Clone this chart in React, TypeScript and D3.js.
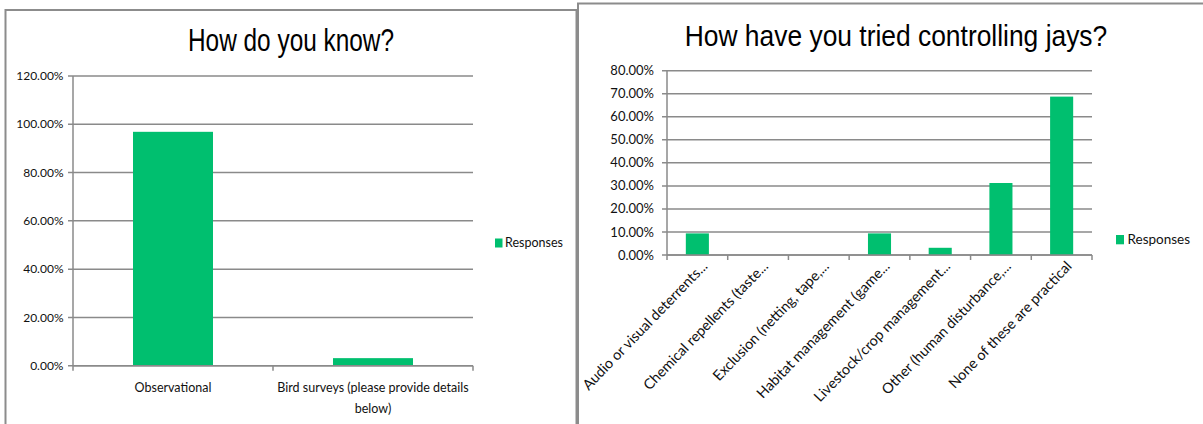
import React from "react";
import * as d3 from "d3";

const leftTitle = "How do you know?";
const leftCategories = ["Observational", "Bird surveys (please provide details below)"];
const leftCategoryLines = [["Observational"], ["Bird surveys (please provide details", "below)"]];
const leftValues = [96.88, 3.13];
const leftTicks = [0, 20, 40, 60, 80, 100, 120];

const rightTitle = "How have you tried controlling jays?";
const rightCategories = [
  "Audio or visual deterrents...",
  "Chemical repellents (taste...",
  "Exclusion (netting, tape,...",
  "Habitat management (game...",
  "Livestock/crop management...",
  "Other (human disturbance,...",
  "None of these are practical",
];
const rightValues = [9.38, 0, 0, 9.38, 3.13, 31.25, 68.75];
const rightTicks = [0, 10, 20, 30, 40, 50, 60, 70, 80];

const seriesName = "Responses";

const GREEN = "#00BF6F";
const GRID = "#8a8a8a";
const FRAME = "#8c8c8c";
const TEXT = "#111";
const FONT = "Lato, 'Open Sans', sans-serif";
const TITLE_FONT = "'Liberation Sans', Arial, sans-serif";

const fmt = (v: number) => v.toFixed(2) + "%";

function LeftChart() {
  const x = d3.scaleBand<string>().domain(leftCategories).range([73, 473]).paddingInner(0.6).paddingOuter(0.3);
  const y = d3.scaleLinear().domain([0, 120]).range([365.7, 76]);
  const step = x.step();
  const x0 = 73;
  return (
    <g>
      <rect x={5.5} y={10} width={571} height={430} fill="#fff" stroke={FRAME} strokeWidth={2} />
      <text
        transform="translate(291,51) scale(0.8,1)"
        textAnchor="middle"
        fontFamily={TITLE_FONT}
        fontSize={30.5}
        fill="#000"
      >
        {leftTitle}
      </text>
      {leftTicks.map((t) => (
        <g key={t}>
          <line x1={68} x2={473} y1={y(t)} y2={y(t)} stroke={GRID} strokeWidth={1.5} />
          <text x={63.5} y={y(t)} dy="0.35em" textAnchor="end" fontFamily={FONT} fontSize={12} fill={TEXT}>
            {fmt(t)}
          </text>
        </g>
      ))}
      <line x1={73} x2={73} y1={y(120)} y2={y(0)} stroke={GRID} strokeWidth={1.5} />
      {leftCategories.map((c, i) => (
        <rect key={c} x={x(c)} y={y(leftValues[i])} width={x.bandwidth()} height={y(0) - y(leftValues[i])} fill={GREEN} />
      ))}
      <line x1={73} x2={473} y1={y(0)} y2={y(0)} stroke={GRID} strokeWidth={1.5} />
      {d3.range(leftCategories.length + 1).map((i) => (
        <line key={i} x1={x0 + i * step} x2={x0 + i * step} y1={y(0)} y2={y(0) + 5} stroke={GRID} strokeWidth={1.5} />
      ))}
      {leftCategories.map((c, i) => {
        const cx = (x(c) as number) + x.bandwidth() / 2;
        return (
          <text key={c} textAnchor="middle" fontFamily={FONT} fontSize={12.5} fill={TEXT}>
            {leftCategoryLines[i].map((ln, j) => (
              <tspan key={j} x={cx} y={391.5 + j * 21}>
                {ln}
              </tspan>
            ))}
          </text>
        );
      })}
      <rect x={495} y={238.5} width={7.5} height={9} fill={GREEN} />
      <text x={505} y={243} dy="0.35em" fontFamily={FONT} fontSize={12.5} fill={TEXT}>
        {seriesName}
      </text>
    </g>
  );
}

function RightChart() {
  const x = d3.scaleBand<string>().domain(rightCategories).range([667, 1092]).paddingInner(0.62).paddingOuter(0.31);
  const y = d3.scaleLinear().domain([0, 80]).range([255, 70.7]);
  const step = x.step();
  const x0 = 667;
  return (
    <g>
      <rect x={578} y={3.5} width={640} height={440} fill="#fff" stroke={FRAME} strokeWidth={2} />
      <text
        transform="translate(896,45.5) scale(0.88,1)"
        textAnchor="middle"
        fontFamily={TITLE_FONT}
        fontSize={30}
        fill="#000"
      >
        {rightTitle}
      </text>
      {rightTicks.map((t) => (
        <g key={t}>
          <line x1={662} x2={1092} y1={y(t)} y2={y(t)} stroke={GRID} strokeWidth={1.5} />
          <text x={654} y={y(t)} dy="0.35em" textAnchor="end" fontFamily={FONT} fontSize={13} fill={TEXT}>
            {fmt(t)}
          </text>
        </g>
      ))}
      <line x1={667} x2={667} y1={y(80)} y2={y(0)} stroke={GRID} strokeWidth={1.5} />
      {rightCategories.map((c, i) => (
        <rect key={c} x={x(c)} y={y(rightValues[i])} width={x.bandwidth()} height={y(0) - y(rightValues[i])} fill={GREEN} />
      ))}
      <line x1={667} x2={1092} y1={y(0)} y2={y(0)} stroke={GRID} strokeWidth={1.5} />
      {d3.range(rightCategories.length + 1).map((i) => (
        <line key={i} x1={x0 + i * step} x2={x0 + i * step} y1={y(0)} y2={y(0) + 5} stroke={GRID} strokeWidth={1.5} />
      ))}
      {rightCategories.map((c) => {
        const cx = (x(c) as number) + x.bandwidth() / 2;
        return (
          <text
            key={c}
            transform={`translate(${cx + 11},${y(0) + 12}) rotate(-46)`}
            textAnchor="end"
            fontFamily={FONT}
            fontSize={14.4}
            fill={TEXT}
          >
            {c}
          </text>
        );
      })}
      <rect x={1116} y={235} width={8} height={9.3} fill={GREEN} />
      <text x={1127.5} y={239.6} dy="0.35em" fontFamily={FONT} fontSize={13.5} fill={TEXT}>
        {seriesName}
      </text>
    </g>
  );
}

export default function App() {
  return (
    <svg
      width={1203}
      height={424}
      style={{ position: "absolute", left: 0, top: 0, background: "#fff" }}
    >
      <rect x={0} y={0} width={1203} height={424} fill="#fff" />
      <LeftChart />
      <RightChart />
    </svg>
  );
}
